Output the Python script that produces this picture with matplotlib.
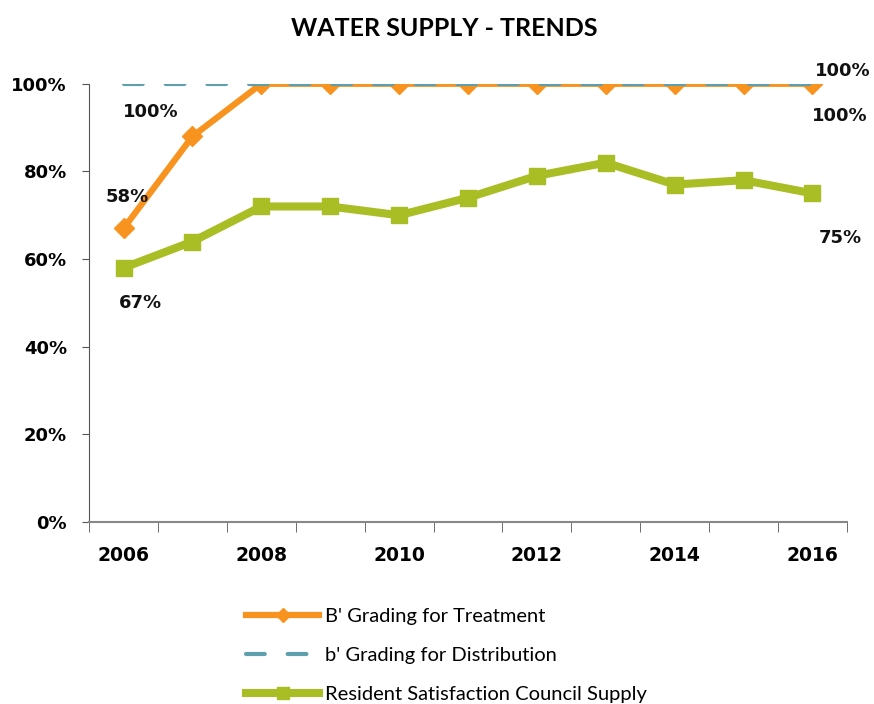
import numpy as np
import matplotlib.pyplot as plt
from matplotlib.ticker import FixedLocator, PercentFormatter

plt.rcParams['font.family'] = ['DejaVu Sans']

years = [2006, 2007, 2008, 2009, 2010, 2011, 2012, 2013, 2014, 2015, 2016]
treatment = [67, 88, 100, 100, 100, 100, 100, 100, 100, 100, 100]
distribution = [100, 100, 100, 100, 100, 100, 100, 100, 100, 100, 100]
satisfaction = [58, 64, 72, 72, 70, 74, 79, 82, 77, 78, 75]

names = ["B' Grading for Treatment", "b' Grading for Distribution",
         "Resident Satisfaction Council Supply"]

# label text, series, point index, offset in pixels
labels = [("58%", treatment, 0, (4, 31)),
          ("100%", distribution, 0, (27, -28)),
          ("67%", satisfaction, 0, (17, -35)),
          ("100%", treatment, 10, (30, 13)),
          ("100%", distribution, 10, (27, -32)),
          ("75%", satisfaction, 10, (28, -45))]

orange = '#F7931E'
teal = '#5E9FAE'
green = '#A9BD24'

x = np.arange(len(years))

fig = plt.figure(figsize=(8.74, 7.04), dpi=100)
ax = fig.add_axes([0.102, 0.2585, 0.867, 0.6225])

ax.plot(x, treatment, color=orange, lw=4.5, marker='D', ms=10.5,
        label=names[0], zorder=2)
ax.plot(x, distribution, color=teal, lw=3, dashes=(4.5, 5.5),
        dash_capstyle='round', label=names[1], zorder=3)
ax.plot(x, satisfaction, color=green, lw=5.8, marker='s', ms=12,
        label=names[2], zorder=3)

for txt, series, i, off in labels:
    ax.annotate(txt, xy=(x[i], series[i]), xytext=off,
                textcoords='offset pixels', ha='center', va='center',
                fontsize=13, fontweight='bold', color='#111111',
                annotation_clip=False)

ax.set_xlim(-0.5, len(years) - 0.5)
ax.set_ylim(0, 100)
ax.yaxis.set_major_locator(FixedLocator([0, 20, 40, 60, 80, 100]))
ax.yaxis.set_major_formatter(PercentFormatter(decimals=0))

ax.set_xticks(x[::2])
ax.set_xticklabels([str(y) for y in years[::2]])
ax.xaxis.set_minor_locator(FixedLocator(np.arange(-0.5, len(years), 1)))
ax.tick_params(axis='x', which='major', length=0, pad=17)
ax.tick_params(axis='x', which='minor', length=7, color='#555555',
               direction='out')
ax.tick_params(axis='y', length=5, color='#555555', pad=11)
for lab in ax.get_xticklabels():
    lab.set_fontsize(13.5)
    lab.set_fontweight('bold')
for lab in ax.get_yticklabels():
    lab.set_fontsize(13)
    lab.set_fontweight('bold')

for s in ['top', 'right']:
    ax.spines[s].set_visible(False)
ax.spines['left'].set_color('#555555')
ax.spines['bottom'].set_color('#888888')
ax.spines['bottom'].set_linewidth(1.5)

fig.text(0.508, 0.96, 'WATER SUPPLY - TRENDS', ha='center', va='center',
         fontsize=18, fontweight='bold', family='Lato')

handles, lbls = ax.get_legend_handles_labels()
fig.legend(handles, lbls, loc='upper left', bbox_to_anchor=(0.282, 0.137),
           frameon=False, prop={'family': 'Lato', 'size': 14.5},
           handlelength=3.6, handletextpad=0.3, labelspacing=1.1,
           borderaxespad=0, borderpad=0, markerscale=0.7)

fig.savefig('out.png', dpi=100)
